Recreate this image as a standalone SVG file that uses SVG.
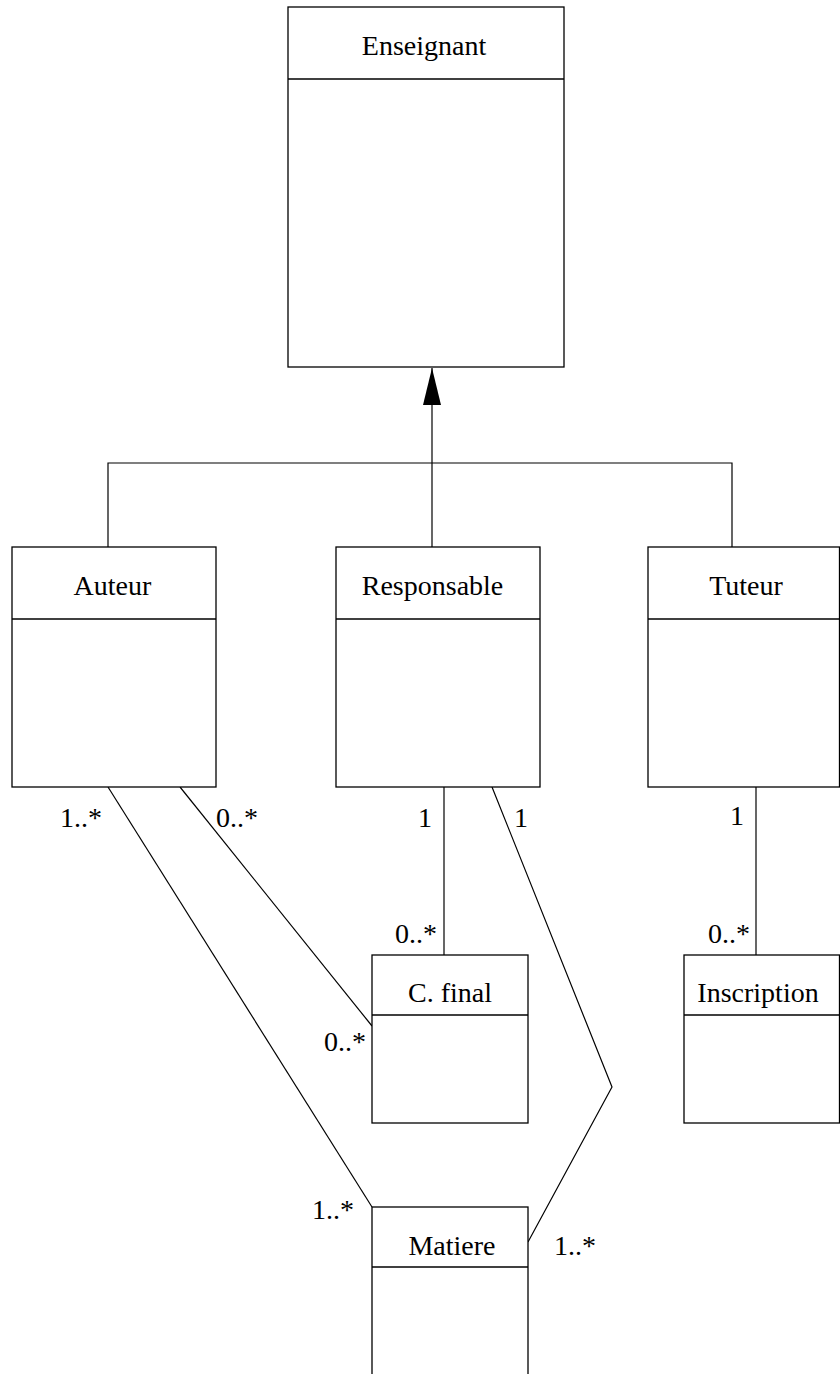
<svg xmlns="http://www.w3.org/2000/svg" width="840" height="1374" viewBox="0 0 840 1374">
<style>
.box{fill:#fff;stroke:#000;stroke-width:1.3}
.div{stroke:#000;stroke-width:1.3}
.ln{fill:none;stroke:#000;stroke-width:1.2}
text{font-family:"Liberation Serif","Times New Roman",serif;font-size:28px;fill:#000}
.c{text-anchor:middle}
.e{text-anchor:end}
</style>
<defs>
<marker id="tri" markerUnits="userSpaceOnUse" markerWidth="40" markerHeight="20" refX="37" refY="9" orient="auto">
<path d="M0,0 L37,9 L0,18 Z" fill="#000"/>
</marker>
</defs>
<rect width="840" height="1374" fill="#fff"/>
<g id="connectors">
<line class="ln" x1="432" y1="547" x2="432" y2="368" marker-end="url(#tri)"/>
<polyline class="ln" points="108,547 108,463 732,463 732,547"/>
<line class="ln" x1="444" y1="787" x2="444" y2="955"/>
<line class="ln" x1="756" y1="787" x2="756" y2="955"/>
<line class="ln" x1="180" y1="787" x2="372" y2="1026"/>
<line class="ln" x1="108" y1="787" x2="372" y2="1207"/>
<polyline class="ln" points="492,787 612,1087 528,1242"/>
</g>
<g id="Enseignant">
<rect class="box" x="288" y="7" width="276" height="360"/>
<line class="div" x1="288" y1="79" x2="564" y2="79"/>
<text class="c" x="424" y="55">Enseignant</text>
</g>
<g id="Auteur">
<rect class="box" x="12" y="547" width="204" height="240"/>
<line class="div" x1="12" y1="619" x2="216" y2="619"/>
<text class="c" x="112.5" y="595">Auteur</text>
</g>
<g id="Responsable">
<rect class="box" x="336" y="547" width="204" height="240"/>
<line class="div" x1="336" y1="619" x2="540" y2="619"/>
<text class="c" x="432.5" y="595">Responsable</text>
</g>
<g id="Tuteur">
<rect class="box" x="648" y="547" width="191.5" height="240"/>
<line class="div" x1="648" y1="619" x2="840" y2="619"/>
<text class="c" x="746" y="595">Tuteur</text>
</g>
<g id="CFinal">
<rect class="box" x="372" y="955" width="156" height="168"/>
<line class="div" x1="372" y1="1015" x2="528" y2="1015"/>
<text class="c" x="450" y="1002">C. final</text>
</g>
<g id="Inscription">
<rect class="box" x="684" y="955" width="155.5" height="168"/>
<line class="div" x1="684" y1="1015" x2="840" y2="1015"/>
<text class="c" x="758" y="1002">Inscription</text>
</g>
<g id="Matiere">
<rect class="box" x="372" y="1207" width="156" height="200"/>
<line class="div" x1="372" y1="1267" x2="528" y2="1267"/>
<text class="c" x="452" y="1255">Matiere</text>
</g>
<g id="labels">
<text class="e" x="102" y="827">1..*</text>
<text x="216" y="827">0..*</text>
<text class="e" x="432" y="827">1</text>
<text x="514" y="827">1</text>
<text class="e" x="744" y="825">1</text>
<text class="e" x="437" y="943">0..*</text>
<text class="e" x="366" y="1051">0..*</text>
<text class="e" x="750" y="943">0..*</text>
<text class="e" x="354" y="1219">1..*</text>
<text x="554" y="1255">1..*</text>
</g>
</svg>
